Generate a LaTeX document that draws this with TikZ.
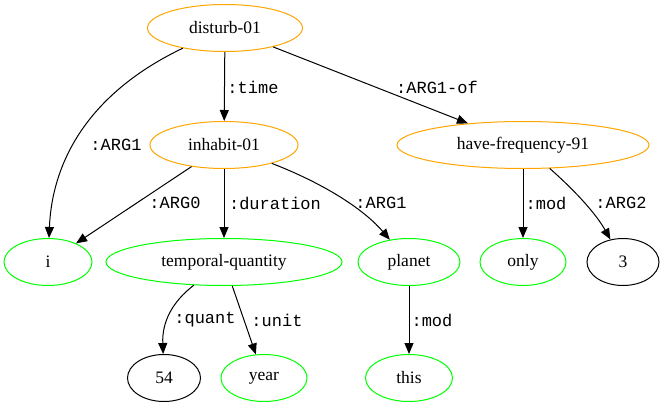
\documentclass[tikz,border=0pt]{standalone}
\usepackage{fontspec}
\setmainfont{Liberation Serif}
\setmonofont{Liberation Mono}
\usetikzlibrary{shapes.geometric,arrows.meta}
\definecolor{amrorange}{HTML}{FFA500}
\definecolor{amrgreen}{HTML}{00FF00}
\begin{document}
\begin{tikzpicture}[x=1pt,y=-1pt,
  amr/.style={ellipse,draw,line width=1pt,inner sep=0pt,minimum height=47pt,font=\fontsize{17.5}{20}\selectfont},
  concept/.style={amr,draw=amrorange},
  const/.style={amr,draw=amrgreen},
  num/.style={amr,draw=black},
  edge/.style={draw,line width=1pt,-{Triangle[length=11pt,width=9pt]}},
  lab/.style={font=\ttfamily\fontsize{17}{20}\selectfont,inner sep=0pt,anchor=center}]
\useasboundingbox (0,0) rectangle (665,407);
\node[concept,minimum width=155pt] (disturb) at (225,28) {disturb-01};
\node[concept,minimum width=148pt] (inhabit) at (224,145) {inhabit-01};
\node[concept,minimum width=252pt] (freq) at (523,145) {have-frequency-91};
\node[const,minimum width=88pt] (i) at (48,262) {i};
\node[const,minimum width=236pt] (tq) at (224,262) {temporal-quantity};
\node[const,minimum width=102pt] (planet) at (409,262) {planet};
\node[const,minimum width=86pt] (only) at (523,262) {only};
\node[num,minimum width=72pt] (three) at (623,262) {3};
\node[num,minimum width=73pt] (fiftyfour) at (164,378) {54};
\node[const,minimum width=86pt] (year) at (264,378) {year};
\node[const,minimum width=87pt] (this) at (409,378) {this};

\path[edge] (disturb) .. controls (85,95) and (52,165) .. (i) node[lab,at={(116,145)}] {:ARG1};
\path[edge] (disturb) -- (inhabit) node[lab,at={(253,87)}] {:time};
\path[edge] (disturb) -- (freq) node[lab,at={(437,87)}] {:ARG1-of};
\path[edge] (inhabit) -- (i) node[lab,at={(175,203)}] {:ARG0};
\path[edge] (inhabit) -- (tq) node[lab,at={(275,203)}] {:duration};
\path[edge] (inhabit) .. controls (315,180) and (360,205) .. (planet) node[lab,at={(381,203)}] {:ARG1};
\path[edge] (freq) -- (only) node[lab,at={(546,203)}] {:mod};
\path[edge] (freq) .. controls (572,188) and (595,212) .. (three) node[lab,at={(621,203)}] {:ARG2};
\path[edge] (tq) .. controls (172,302) and (162,322) .. (fiftyfour) node[lab,at={(205,320)}] {:quant};
\path[edge] (tq) -- (year) node[lab,at={(277,320)}] {:unit};
\path[edge] (planet) -- (this) node[lab,at={(432,320)}] {:mod};
\end{tikzpicture}
\end{document}
